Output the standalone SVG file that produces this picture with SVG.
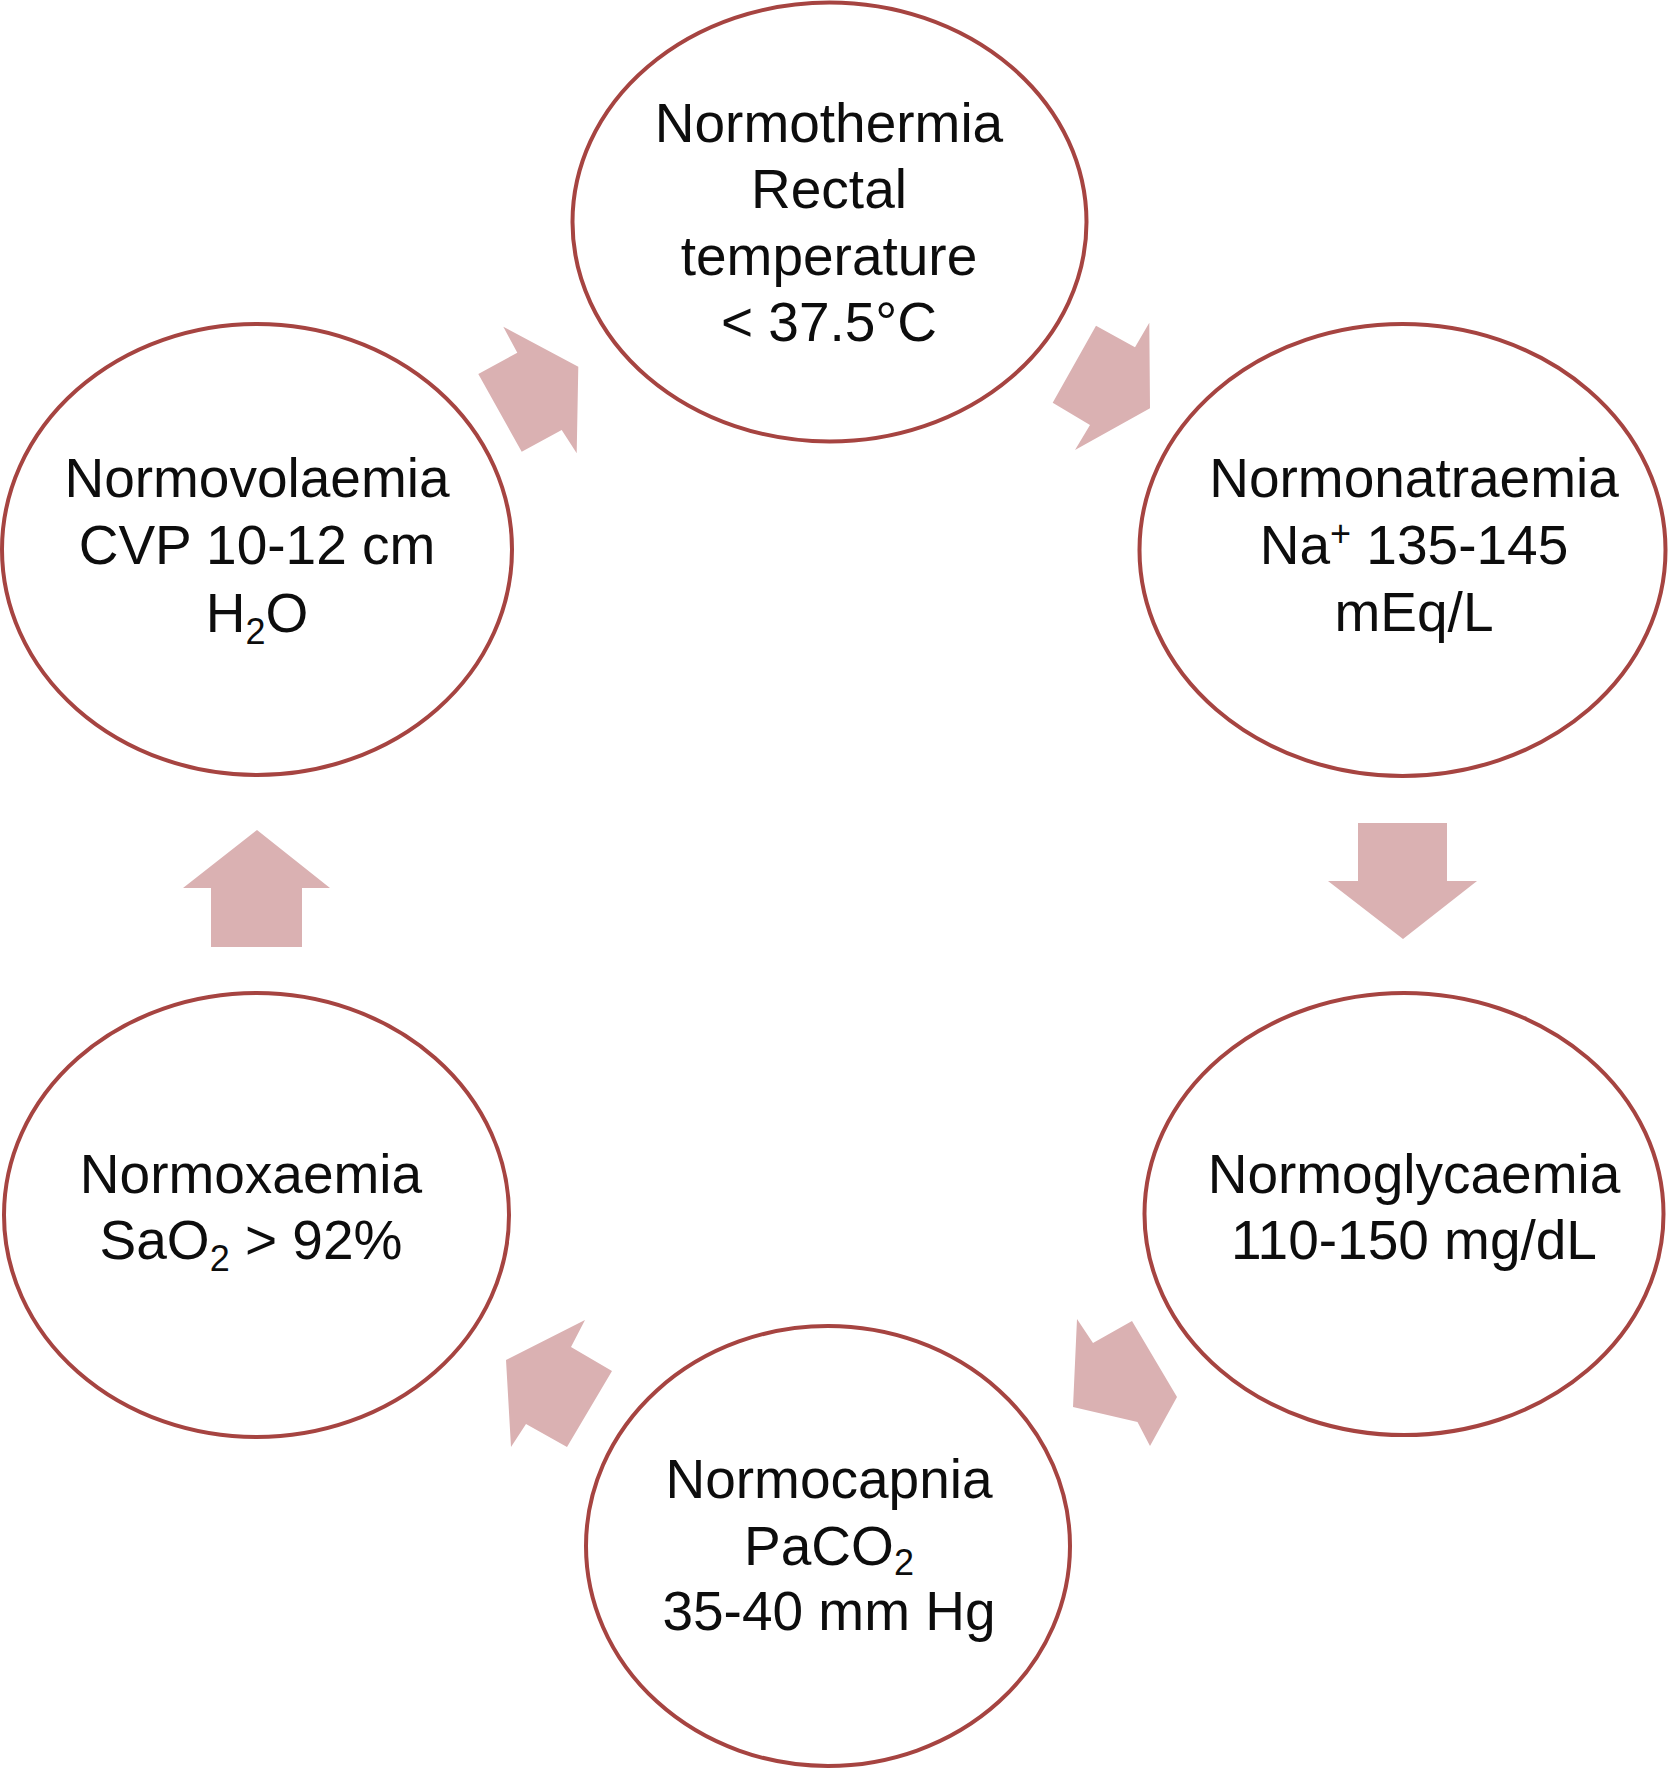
<svg xmlns="http://www.w3.org/2000/svg" width="1668" height="1770" viewBox="0 0 1668 1770">
<style>
.node ellipse{fill:#ffffff;stroke:#A64441;stroke-width:4}
.node text{font-family:"Liberation Sans",Arial,sans-serif;font-size:55px;fill:#0d0d0d;text-anchor:middle}
.sm{font-size:36px}
.arrow{fill:#DAB1B2;stroke:none}
</style>
<rect width="1668" height="1770" fill="#ffffff"/>
<g id="connectors">
<polygon class="arrow" points="503.3,326.7 578.3,366.7 576.7,453.3 561.7,430 521.7,451.7 478.3,374 517.3,352.7"/>
<polygon class="arrow" points="1096,325.7 1135,347.3 1149.3,322.7 1150,408.3 1075,450 1090,425 1052.7,402.7"/>
<polygon class="arrow" points="1358,823 1447,823 1447,881 1477,881 1403,939 1328,881 1358,881"/>
<polygon class="arrow" points="1077,1319 1093,1343 1132,1321 1177,1397 1150,1446 1137.5,1422 1073,1407"/>
<polygon class="arrow" points="585,1320 571,1347 612,1371 567,1447 526,1424 511,1447 506,1360"/>
<polygon class="arrow" points="257,830 330,888 302,888 302,947 211,947 211,888 183,888"/>
</g>
<g id="node-normothermia" class="node">
<ellipse cx="829.5" cy="222" rx="257" ry="219.5"/>
<text x="829" y="142">Normothermia</text>
<text x="829" y="208">Rectal</text>
<text x="829" y="275">temperature</text>
<text x="829" y="341">&lt; 37.5°C</text>
</g>
<g id="node-normonatraemia" class="node">
<ellipse cx="1402.5" cy="550" rx="263" ry="226"/>
<text x="1414" y="497">Normonatraemia</text>
<text x="1414" y="564">Na<tspan class="sm" dy="-18">+</tspan><tspan dy="18"> 135-145</tspan></text>
<text x="1414" y="631">mEq/L</text>
</g>
<g id="node-normoglycaemia" class="node">
<ellipse cx="1404" cy="1214" rx="259.5" ry="221"/>
<text x="1414" y="1193">Normoglycaemia</text>
<text x="1414" y="1259">110-150 mg/dL</text>
</g>
<g id="node-normocapnia" class="node">
<ellipse cx="828" cy="1546" rx="242" ry="220"/>
<text x="829" y="1498">Normocapnia</text>
<text x="829" y="1565">PaCO<tspan class="sm" dy="10">2</tspan></text>
<text x="829" y="1630">35-40 mm Hg</text>
</g>
<g id="node-normoxaemia" class="node">
<ellipse cx="256.5" cy="1215" rx="252.5" ry="222"/>
<text x="251" y="1193">Normoxaemia</text>
<text x="251" y="1259">SaO<tspan class="sm" dy="12">2</tspan><tspan dy="-12"> &gt; 92%</tspan></text>
</g>
<g id="node-normovolaemia" class="node">
<ellipse cx="257" cy="549.5" rx="255" ry="225.5"/>
<text x="257" y="497">Normovolaemia</text>
<text x="257" y="564">CVP 10-12 cm</text>
<text x="257" y="632">H<tspan class="sm" dy="12">2</tspan><tspan dy="-12">O</tspan></text>
</g>
</svg>
